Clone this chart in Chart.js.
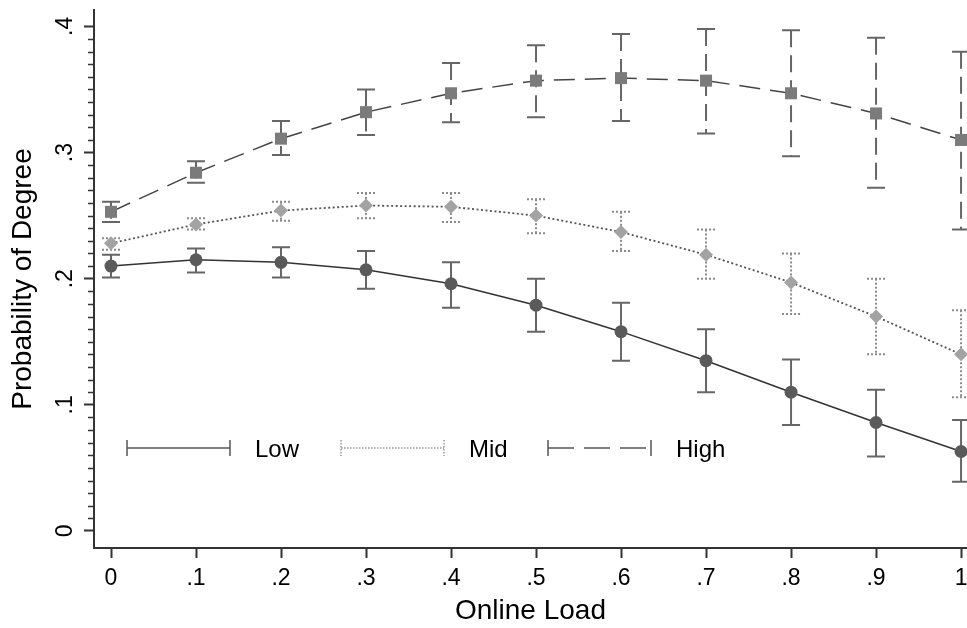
<!DOCTYPE html>
<html>
<head>
<meta charset="utf-8">
<script src="https://cdn.jsdelivr.net/npm/chart.js@4.4.1/dist/chart.umd.min.js"></script>
<style>
  html, body { margin: 0; padding: 0; background: #fff; }
  #wrap { width: 967px; height: 628px; }
</style>
</head>
<body>
<div id="wrap"><canvas id="chart"></canvas></div>
<script>
const loads = [0, 0.1, 0.2, 0.3, 0.4, 0.5, 0.6, 0.7, 0.8, 0.9, 1];
const seriesNames = ['Low', 'Mid', 'High'];

const lowProb  = [0.210, 0.215, 0.213, 0.207, 0.196, 0.179, 0.158, 0.135, 0.110, 0.086, 0.063];
const lowLower = [0.201, 0.205, 0.201, 0.192, 0.177, 0.158, 0.135, 0.110, 0.084, 0.059, 0.039];
const lowUpper = [0.219, 0.224, 0.225, 0.222, 0.213, 0.200, 0.181, 0.160, 0.136, 0.112, 0.088];

const midProb  = [0.228, 0.243, 0.254, 0.258, 0.257, 0.250, 0.237, 0.219, 0.197, 0.170, 0.140];
const midLower = [0.223, 0.239, 0.246, 0.248, 0.245, 0.236, 0.222, 0.200, 0.172, 0.140, 0.106];
const midUpper = [0.232, 0.248, 0.261, 0.268, 0.268, 0.263, 0.253, 0.239, 0.220, 0.200, 0.175];

const highProb  = [0.253, 0.284, 0.311, 0.332, 0.347, 0.357, 0.359, 0.357, 0.347, 0.331, 0.310];
const highLower = [0.245, 0.276, 0.298, 0.314, 0.324, 0.328, 0.325, 0.315, 0.297, 0.272, 0.239];
const highUpper = [0.261, 0.293, 0.325, 0.350, 0.371, 0.385, 0.394, 0.398, 0.397, 0.391, 0.380];

const xTicks = [0, 0.1, 0.2, 0.3, 0.4, 0.5, 0.6, 0.7, 0.8, 0.9, 1];
const yTicks = [0, 0.1, 0.2, 0.3, 0.4];
const yTickLabels = ['0', '.1', '.2', '.3', '.4'];
const xTickLabels = ['0', '.1', '.2', '.3', '.4', '.5', '.6', '.7', '.8', '.9', '1'];

const FONT = '"Liberation Sans", Arial, sans-serif';

function pts(vals) {
  return vals.map((v, i) => ({ x: loads[i], y: v }));
}

// confidence intervals, drawn under the markers
const errorBars = {
  id: 'errorBars',
  beforeDatasetsDraw(chart) {
    const { ctx, scales: { x, y } } = chart;
    chart.data.datasets.forEach(ds => {
      ctx.save();
      ctx.strokeStyle = ds.ciColor;
      ctx.lineWidth = ds.ciWidth;
      ds.data.forEach((p, i) => {
        const px = x.getPixelForValue(p.x);
        const top = y.getPixelForValue(ds.upper[i]);
        const bot = y.getPixelForValue(ds.lower[i]);
        ctx.setLineDash(ds.ciDash);
        ctx.beginPath();
        ctx.moveTo(px, top);
        ctx.lineTo(px, bot);
        ctx.stroke();
        ctx.setLineDash(ds.capDash);
        ctx.beginPath();
        ctx.moveTo(px - 9, top); ctx.lineTo(px + 9, top);
        ctx.moveTo(px - 9, bot); ctx.lineTo(px + 9, bot);
        ctx.stroke();
      });
      ctx.restore();
    });
  }
};

// rotated y labels, minor ticks and the in-plot legend
const decorations = {
  id: 'decorations',
  afterDraw(chart) {
    const { ctx, scales: { y } } = chart;
    ctx.save();
    ctx.fillStyle = '#000';
    ctx.font = '23px ' + FONT;
    ctx.textAlign = 'center';
    ctx.textBaseline = 'alphabetic';
    yTicks.forEach((v, i) => {
      ctx.save();
      ctx.translate(72, y.getPixelForValue(v));
      ctx.rotate(-Math.PI / 2);
      ctx.fillText(yTickLabels[i], 0, 0);
      ctx.restore();
    });

    ctx.strokeStyle = '#333';
    ctx.lineWidth = 1.5;
    for (let k = 0; k <= 40; k++) {
      if (k % 10 === 0) continue;
      const py = Math.round(y.getPixelForValue(k / 100)) + 0.5;
      ctx.beginPath();
      ctx.moveTo(y.right - 6, py);
      ctx.lineTo(y.right, py);
      ctx.stroke();
    }

    const legendX = [127, 341, 548];
    const legendY = 448;
    chart.data.datasets.forEach((ds, i) => {
      const x0 = legendX[i], x1 = x0 + 103;
      ctx.strokeStyle = ds.legendColor;
      ctx.lineWidth = 1.5;
      ctx.setLineDash(ds.legendDash);
      ctx.beginPath();
      ctx.moveTo(x0, legendY); ctx.lineTo(x1, legendY);
      ctx.stroke();
      ctx.setLineDash(ds.legendCapDash);
      ctx.beginPath();
      ctx.moveTo(x0, legendY - 8); ctx.lineTo(x0, legendY + 8);
      ctx.moveTo(x1, legendY - 8); ctx.lineTo(x1, legendY + 8);
      ctx.stroke();
      ctx.setLineDash([]);
      ctx.fillStyle = '#000';
      ctx.font = '24px ' + FONT;
      ctx.textAlign = 'left';
      ctx.textBaseline = 'alphabetic';
      ctx.fillText(seriesNames[i], x1 + 25, legendY + 9);
    });
    ctx.restore();
  }
};

new Chart(document.getElementById('chart'), {
  type: 'line',
  data: {
    datasets: [{
      label: seriesNames[0],
      data: pts(lowProb),
      lower: lowLower,
      upper: lowUpper,
      borderColor: '#333',
      borderWidth: 1.5,
      pointStyle: 'circle',
      pointRadius: 6.5,
      pointBackgroundColor: '#5a5a5a',
      pointBorderWidth: 0,
      ciColor: '#666', ciWidth: 2, ciDash: [], capDash: [],
      legendColor: '#555', legendDash: [], legendCapDash: []
    }, {
      label: seriesNames[1],
      data: pts(midProb),
      lower: midLower,
      upper: midUpper,
      borderColor: '#555',
      borderWidth: 1.8,
      borderDash: [2, 2.5],
      pointStyle: 'rectRot',
      pointRadius: 7,
      pointBackgroundColor: '#a3a3a3',
      pointBorderWidth: 0,
      ciColor: '#8a8a8a', ciWidth: 2, ciDash: [2, 2], capDash: [2, 2],
      legendColor: '#999', legendDash: [1.5, 1.5], legendCapDash: [1.5, 1.5]
    }, {
      label: seriesNames[2],
      data: pts(highProb),
      lower: highLower,
      upper: highUpper,
      borderColor: '#444',
      borderWidth: 1.5,
      borderDash: [21, 10],
      pointStyle: 'rect',
      pointRadius: 8.5,
      pointBackgroundColor: '#7b7b7b',
      pointBorderWidth: 0,
      ciColor: '#666', ciWidth: 2, ciDash: [17, 8], capDash: [],
      legendColor: '#555', legendDash: [26, 10], legendCapDash: []
    }]
  },
  options: {
    responsive: true,
    maintainAspectRatio: false,
    animation: false,
    layout: { autoPadding: false, padding: { top: 10, left: 0, right: 0, bottom: 0 } },
    plugins: {
      legend: { display: false },
      tooltip: { enabled: false }
    },
    scales: {
      x: {
        type: 'linear',
        min: -0.02,
        max: 1.007,
        afterBuildTicks: s => { s.ticks = xTicks.map(v => ({ value: v })); },
        afterFit: s => { s.height = 80; s.paddingLeft = 0; s.paddingRight = 0; },
        ticks: {
          autoSkip: false,
          maxRotation: 0,
          padding: 7,
          color: '#000',
          font: { family: FONT, size: 23 },
          callback: (v, i) => xTickLabels[i]
        },
        grid: { drawOnChartArea: false, tickLength: 10, tickWidth: 2, tickColor: '#333' },
        border: { color: '#333', width: 2 },
        title: {
          display: true,
          text: 'Online Load',
          color: '#000',
          font: { family: FONT, size: 28 },
          padding: { top: 0, bottom: 0 }
        }
      },
      y: {
        type: 'linear',
        min: -0.0135,
        max: 0.413,
        afterBuildTicks: s => { s.ticks = yTicks.map(v => ({ value: v })); },
        afterFit: s => { s.width = 94; },
        ticks: { display: false },
        grid: { drawOnChartArea: false, tickLength: 10, tickWidth: 2, tickColor: '#333' },
        border: { color: '#333', width: 2 },
        title: {
          display: true,
          text: 'Probability of Degree',
          color: '#000',
          font: { family: FONT, size: 28 },
          padding: { top: 6, bottom: 0 }
        }
      }
    }
  },
  plugins: [errorBars, decorations]
});
</script>
</body>
</html>
